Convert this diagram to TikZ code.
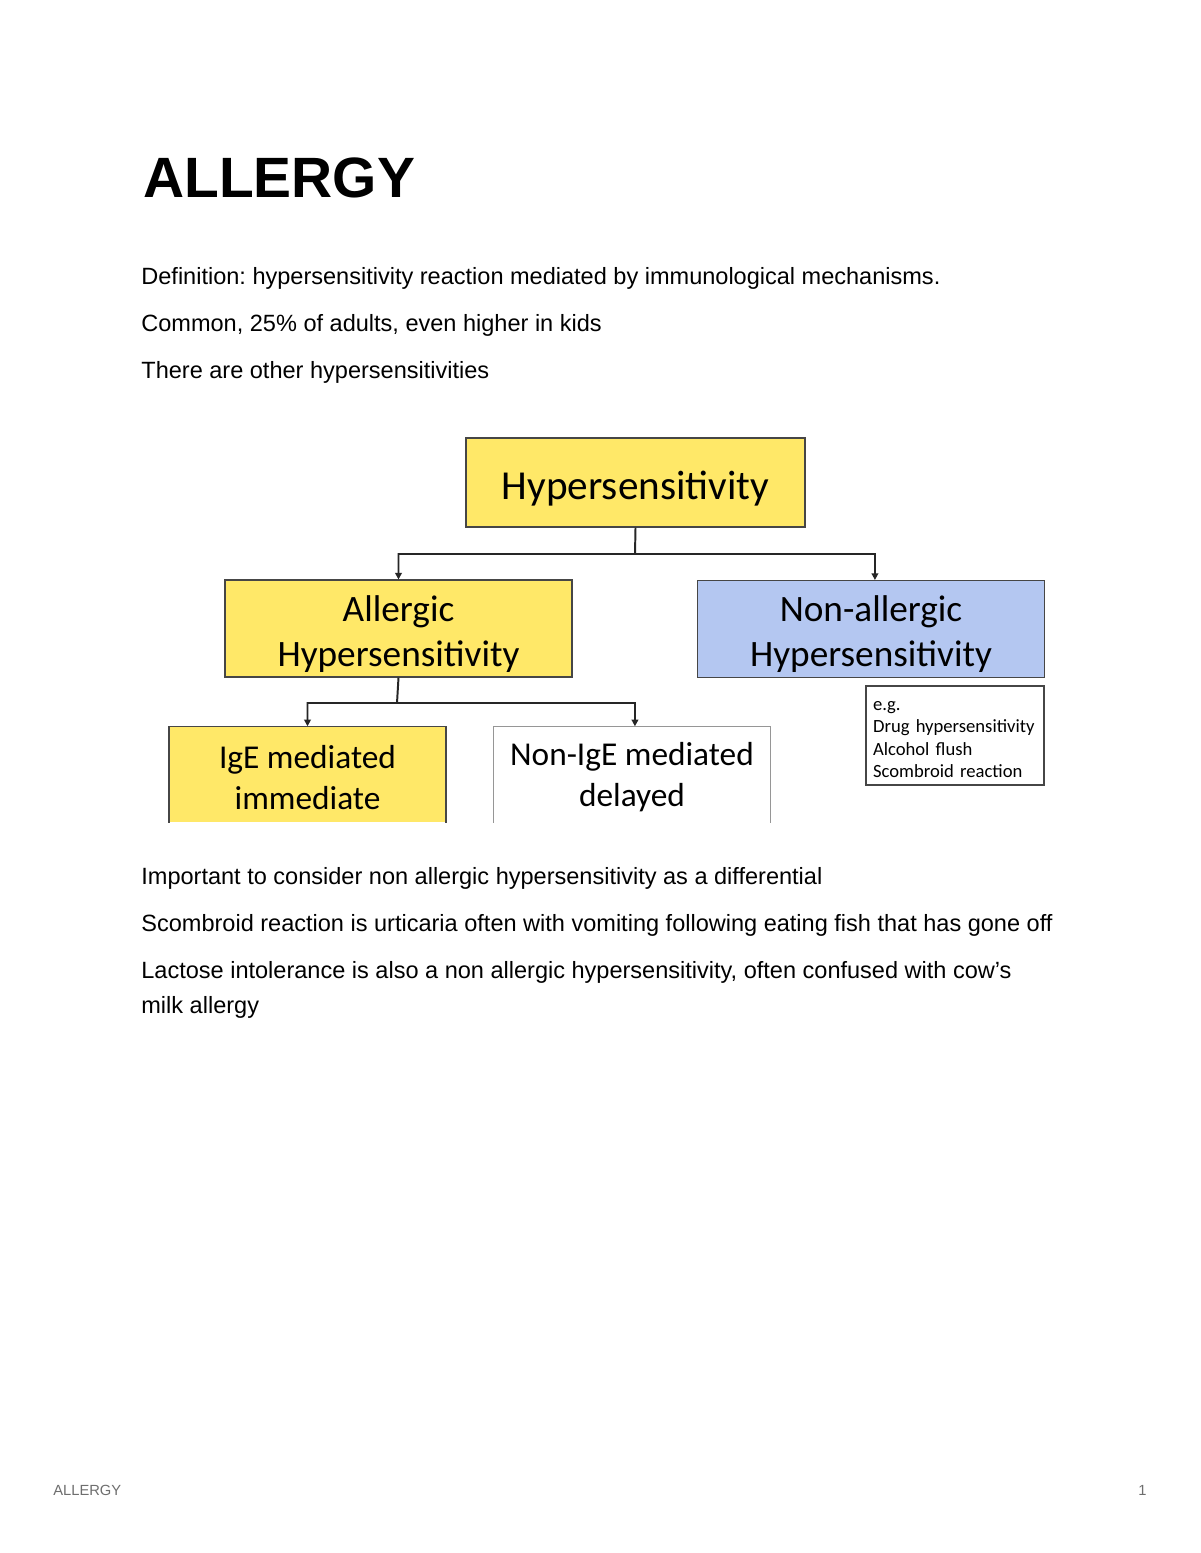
\documentclass[tikz,border=0pt]{standalone}
\usepackage{fontspec}
\setmainfont{Liberation Sans}
\newfontfamily\calibri{Carlito}
\usetikzlibrary{arrows.meta}
\frenchspacing

\definecolor{boxyellow}{RGB}{255,232,104}
\definecolor{boxblue}{RGB}{180,199,241}
\definecolor{edgegray}{RGB}{70,70,70}
\definecolor{lightedge}{RGB}{150,150,150}
\definecolor{linkgray}{RGB}{38,38,38}
\definecolor{footgray}{RGB}{110,110,110}

% taller first line, pushes box text down a little
\newcommand{\boxlift}[1]{\rule{0pt}{#1}}

\begin{document}
\begin{tikzpicture}[
    x=0.51pt, y=-0.51pt,
    body/.style={
        anchor=base west, inner sep=0pt,
        font=\fontsize{12}{14}\selectfont
    },
    box/.style={
        rectangle, inner sep=0pt, align=center,
        draw=edgegray, line width=0.7pt
    },
    topbox/.style={box, fill=boxyellow,
        minimum width=172.9pt, minimum height=45.4pt,
        execute at begin node={\rule{0pt}{20.5pt}},
        font=\calibri\fontsize{21}{25}\selectfont},
    midbox/.style={box, minimum width=176.8pt, minimum height=49.3pt,
        font=\calibri\fontsize{19}{23}\selectfont},
    lowbox/.style={box, draw=none, minimum width=140.5pt, minimum height=48.5pt,
        font=\calibri\fontsize{17}{21}\selectfont},
    notebox/.style={box, align=left, text width=83.6pt, inner xsep=3.6pt,
        minimum height=50.5pt, fill=white,
        execute at begin node={\rule{0pt}{8.6pt}},
        font=\calibri\fontsize{9.5}{11.4}\selectfont},
    rim/.style={line width=0.7pt},
    arr/.style={
        -{Triangle[length=3.4pt, width=3.4pt]},
        line width=1pt, linkgray
    }
]
\fill[white] (0,0) rectangle (1200,1553);
\useasboundingbox (0,0) rectangle (1200,1553);

\node[anchor=base west, inner sep=0pt, font=\bfseries\fontsize{29}{33}\selectfont]
    (title) at (143,198) {ALLERGY};

\node[body] (defn)   at (141,284) {Definition: hypersensitivity reaction mediated by immunological mechanisms.};
\node[body] (common) at (141,331) {Common, 25\% of adults, even higher in kids};
\node[body] (other)  at (141,378) {There are other hypersensitivities};

% diagram
\node[topbox] (hyp) at (635.5,482.5) {Hypersensitivity};

\node[midbox, fill=boxyellow] (allergic)    at (398.5,628.5) {\boxlift{18.5pt}Allergic\\Hypersensitivity};
\node[midbox, fill=boxblue]   (nonallergic) at (871,629)     {\boxlift{18.5pt}Non-allergic\\Hypersensitivity};

\node[lowbox, fill=boxyellow] (ige)   at (307.5,774.5) {\boxlift{14.8pt}IgE mediated\\immediate};
\node[lowbox, fill=white]     (nonige) at (632,774.5)  {\boxlift{14.8pt}Non-IgE mediated\\delayed};
\draw[rim, draw=edgegray]  (ige.south west) -- (ige.north west) -- (ige.north east) -- (ige.south east);
\draw[rim, draw=lightedge] (nonige.south west) -- (nonige.north west) -- (nonige.north east) -- (nonige.south east);

\node[notebox] (examples) at (955,735.5)
    {e.g.\\Drug hypersensitivity\\Alcohol flush\\Scombroid reaction};

\coordinate (fork1) at (635,554);
\coordinate (fork2) at (397,703);

\draw[arr] (hyp.south) -- (fork1) -| (allergic.north);
\draw[arr] (fork1) -| ([xshift=2pt]nonallergic.north);
\draw[arr] (allergic.south) -- (fork2) -| (ige.north);
\draw[arr] (fork2) -| ([xshift=1.5pt]nonige.north);

\node[body] (differential) at (141,884) {Important to consider non allergic hypersensitivity as a differential};
\node[body] (scombroid)    at (141,931) {Scombroid reaction is urticaria often with vomiting following eating fish that has gone off};
\node[body] (lactose)      at (141,978) {Lactose intolerance is also a non allergic hypersensitivity, often confused with cow’s};
\node[body] (milk)         at (141,1013) {milk allergy};

\node[anchor=base west, inner sep=0pt, text=footgray, font=\fontsize{7.5}{9}\selectfont]
    (footer) at (53,1495) {ALLERGY};
\node[anchor=base east, inner sep=0pt, text=footgray, font=\fontsize{7.5}{9}\selectfont]
    (pageno) at (1147,1495) {1};

\end{tikzpicture}
\end{document}
